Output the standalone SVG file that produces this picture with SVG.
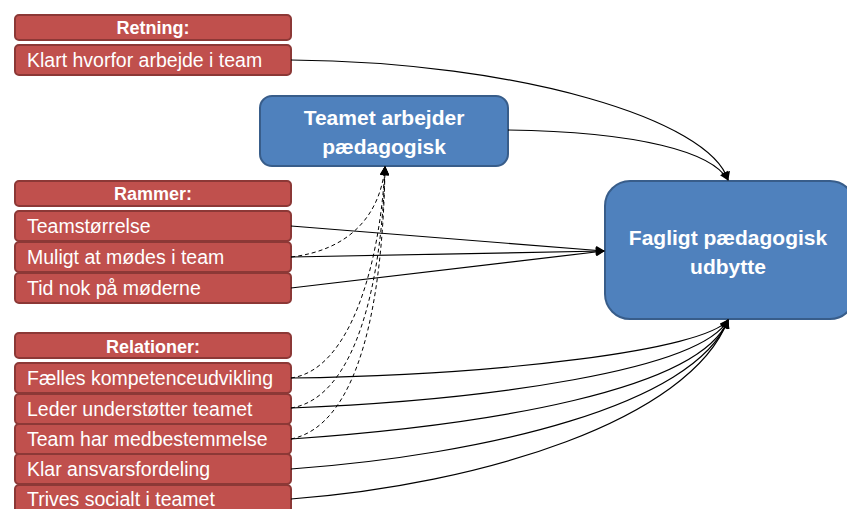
<svg xmlns="http://www.w3.org/2000/svg" width="847" height="509" viewBox="0 0 847 509">
<style>
.red{fill:#C0504D;stroke:#8C3836;stroke-width:2}
.blue{fill:#4F81BD;stroke:#385D8A;stroke-width:2}
.t{font-family:"Liberation Sans",Arial,sans-serif;fill:#fff;font-size:19.5px}
.h{font-family:"Liberation Sans",Arial,sans-serif;fill:#fff;font-size:18px;font-weight:bold;text-anchor:middle}
.b{font-family:"Liberation Sans",Arial,sans-serif;fill:#fff;font-size:21px;font-weight:bold;text-anchor:middle}
.c{fill:none;stroke:#000;stroke-width:1.2;marker-end:url(#a)}
.d{fill:none;stroke:#000;stroke-width:1;stroke-dasharray:4 3;marker-end:url(#a)}
</style>
<defs>
<marker id="a" viewBox="0 0 10 10" refX="9" refY="5" markerWidth="10" markerHeight="9" markerUnits="userSpaceOnUse" orient="auto">
<path d="M0,0 L10,5 L0,10 Z" fill="#000"/>
</marker>
</defs>
<g id="retning-h"><rect class="red" x="15" y="15" width="276" height="25" rx="4"/><text class="h" x="153" y="34">Retning:</text></g>
<g id="klart"><rect class="red" x="15" y="45" width="276" height="30" rx="4"/><text class="t" x="27" y="67">Klart hvorfor arbejde i team</text></g>
<g id="rammer-h"><rect class="red" x="15" y="181" width="276" height="25" rx="4"/><text class="h" x="153" y="200">Rammer:</text></g>
<g id="teamst"><rect class="red" x="15" y="211" width="276" height="30" rx="4"/><text class="t" x="27" y="233">Teamstørrelse</text></g>
<g id="muligt"><rect class="red" x="15" y="242" width="276" height="30" rx="4"/><text class="t" x="27" y="264">Muligt at mødes i team</text></g>
<g id="tid"><rect class="red" x="15" y="273" width="276" height="30" rx="4"/><text class="t" x="27" y="295">Tid nok på møderne</text></g>
<g id="relationer-h"><rect class="red" x="15" y="333" width="276" height="25" rx="4"/><text class="h" x="153" y="353">Relationer:</text></g>
<g id="faelles"><rect class="red" x="15" y="363" width="276" height="30" rx="4"/><text class="t" x="27" y="385">Fælles kompetenceudvikling</text></g>
<g id="leder"><rect class="red" x="15" y="394" width="276" height="30" rx="4"/><text class="t" x="27" y="416">Leder understøtter teamet</text></g>
<g id="teamhar"><rect class="red" x="15" y="424" width="276" height="30" rx="4"/><text class="t" x="27" y="446">Team har medbestemmelse</text></g>
<g id="klar"><rect class="red" x="15" y="454" width="276" height="30" rx="4"/><text class="t" x="27" y="476">Klar ansvarsfordeling</text></g>
<g id="trives"><rect class="red" x="15" y="485" width="276" height="30" rx="4"/><text class="t" x="27" y="506">Trives socialt i teamet</text></g>
<g id="teamet"><rect class="blue" x="260" y="96" width="248" height="70" rx="12"/><text class="b" x="384" y="125">Teamet arbejder</text><text class="b" x="384" y="154">pædagogisk</text></g>
<g id="fagligt"><rect class="blue" x="605" y="181" width="250" height="138" rx="25"/><text class="b" x="728" y="245">Fagligt pædagogisk</text><text class="b" x="728" y="274">udbytte</text></g>
<g id="connectors">
<path class="c" d="M291,60 C520,62 710,120 728,180"/>
<path class="c" d="M508,130 C640,132 712,152 728,180"/>
<path class="c" d="M291,226 L604,251"/>
<path class="c" d="M291,257 L604,251"/>
<path class="c" d="M291,288 L604,251"/>
<path class="c" d="M291,378 C500,375 705,350 728,320"/>
<path class="c" d="M291,408 C490,400 700,370 728,320"/>
<path class="c" d="M291,439 C490,425 700,390 728,320"/>
<path class="c" d="M291,469 C485,455 695,405 728,320"/>
<path class="c" d="M291,499 C480,485 690,420 728,320"/>
<path class="d" d="M291,257 C350,250 380,215 385,167"/>
<path class="d" d="M291,378 C350,370 380,265 385,167"/>
<path class="d" d="M291,408 C355,398 382,285 385,167"/>
<path class="d" d="M291,439 C360,425 383,300 385,167"/>
</g>
</svg>
